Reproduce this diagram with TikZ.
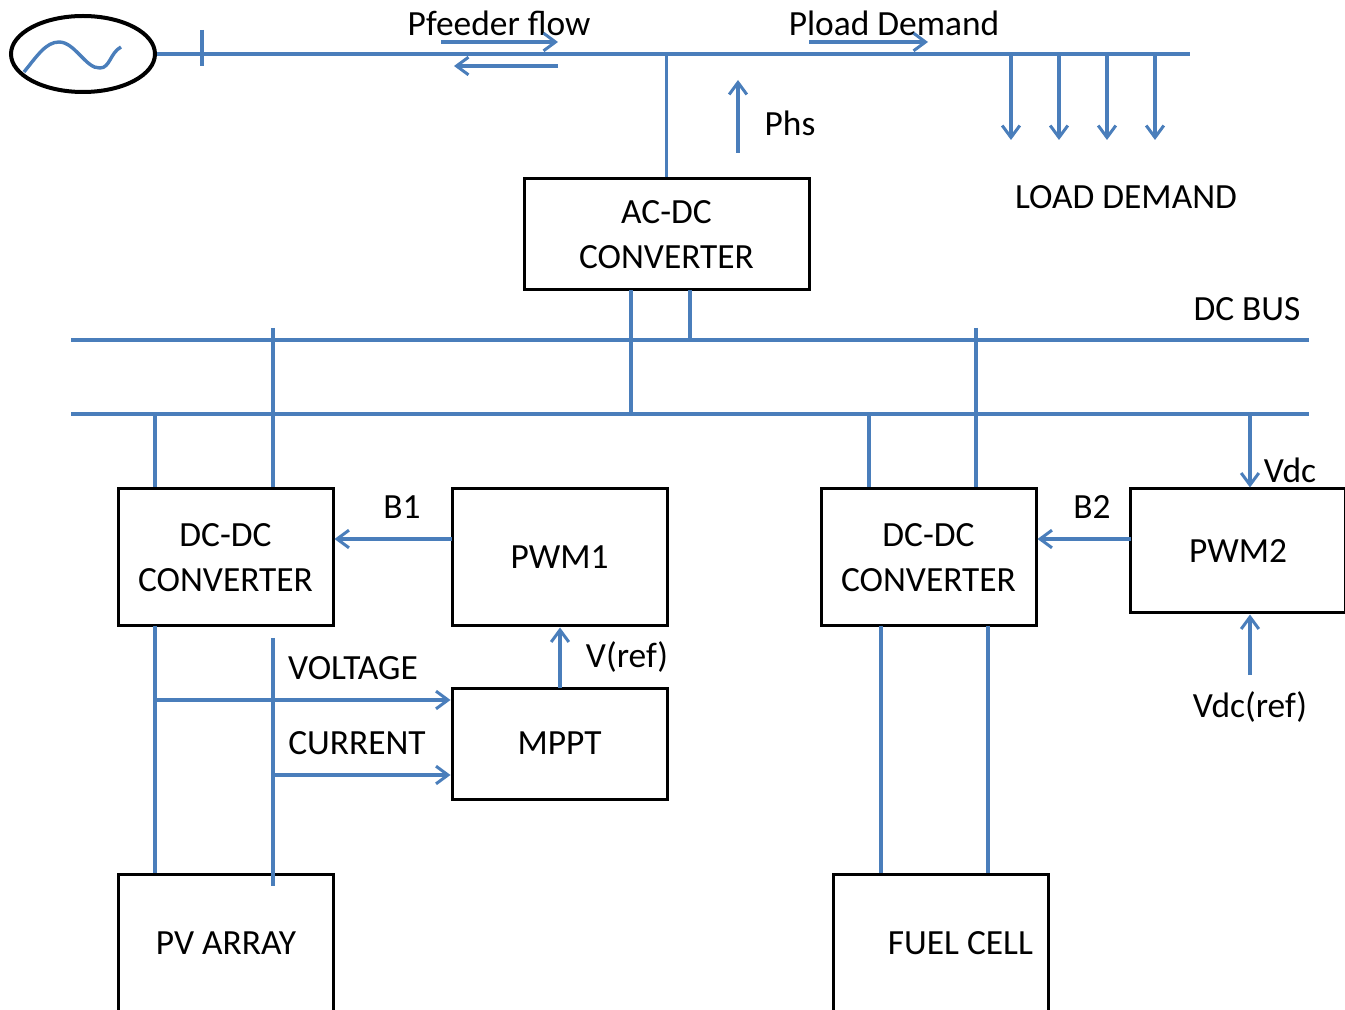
\documentclass[tikz,border=0pt]{standalone}
\usepackage{fontspec}
\setmainfont{Carlito}
\usepackage{xcolor}
\usetikzlibrary{arrows.meta,positioning,shapes.geometric}
\definecolor{wireblue}{HTML}{4A7EBB}

\begin{document}
\begin{tikzpicture}[
x=0.5pt, y=-0.5pt,
font=\fontsize{17.7}{22.5}\selectfont,
box/.style={draw=black, line width=1.5pt, minimum width=107.5pt, minimum height=68.5pt, align=center, inner sep=0pt},
label/.style={inner sep=0pt, align=center},
wire/.style={draw=wireblue, line width=1.7pt},
arrow/.style={wire, -{Straight Barb[length=2.1mm, width=3.1mm, line width=1.5pt]}}
]
\useasboundingbox (0,0) rectangle (1345,1010);
% source and feeder
\node[ellipse, draw=black, line width=2pt, minimum width=72pt, minimum height=38pt, inner sep=0pt] (source) at (83,54) {};
\coordinate (feederend) at (1190,54);
\coordinate (breaker) at (202,54);
\draw[wire] (source.east) -- (feederend);
\draw[wire] ([yshift=12pt]breaker) -- ([yshift=-6pt]breaker);
\draw[wire] (24,72) .. controls (37,56) and (46,42) .. (59,42) .. controls (75,42) and (86,69) .. (100,68) .. controls (110,68) and (110,53) .. (121,47);
\node[label] (pfeeder) at (499,23) {Pfeeder flow};
\node[label] (pload) at (894,23) {Pload Demand};
\coordinate (pfa) at (441,42);
\coordinate (pfb) at (558,42);
\coordinate (pfc) at (558,66);
\coordinate (pfd) at (454,66);
\coordinate (pla) at (809,42);
\coordinate (plb) at (928,42);
\draw[arrow] (pfa) -- (pfb);
\draw[arrow] (pfc) -- (pfd);
\draw[arrow] (pla) -- (plb);
% loads
\foreach \x/\n in {1011/a,1059/b,1107/c,1155/d} {
  \coordinate (tap\n) at (\x,54);
  \coordinate (load\n) at (\x,140);
  \draw[arrow] (tap\n) -- (load\n);
}
\node[label] (demand) at (1126,197) {LOAD DEMAND};
% ac-dc stage
\node[box, minimum width=142.5pt, minimum height=55.5pt] (acdc) at (666.5,234.5) {AC-DC\\CONVERTER};
\coordinate (phsa) at (738,153);
\coordinate (phsb) at (738,80);
\node[label] (phs) at (790,123) {Phs};
\draw[wire] (acdc.north) -- (acdc.north |- feederend);
\draw[arrow] (phsa) -- (phsb);
% dc bus
\coordinate (busa) at (71,340);
\coordinate (busb) at (1309,340);
\coordinate (busc) at (71,414);
\coordinate (busd) at (1309,414);
\draw[wire] (busa) -- (busb);
\draw[wire] (busc) -- (busd);
\node[label] (dcbus) at (1247,309) {DC BUS};
\coordinate (acx) at (631,290);
\coordinate (acy) at (690,290);
\draw[wire] (acx) -- (acx |- busc);
\draw[wire] (acy) -- (acy |- busa);
% converters and controllers
\node[box] (dcdcl) at (225.5,557.5) {DC-DC\\CONVERTER};
\node[box] (dcdcr) at (928.5,557.5) {DC-DC\\CONVERTER};
\node[box] (pwml) at (559.5,557.5) {PWM1};
\node[box, minimum height=62pt] (pwmr) at (1238,551) {PWM2};
\node[box, minimum height=55.5pt] (mppt) at (559.5,743.5) {MPPT};
\node[box] (pv) at (226,943) {PV ARRAY};
\node[box] (fuel) at (940.5,943) {\hspace{20pt}FUEL CELL};
% upper wires
\coordinate (ula) at (155,414);
\coordinate (ulb) at (273,328);
\coordinate (ura) at (869,414);
\coordinate (urb) at (976,328);
\draw[wire] (ula) -- (ula |- dcdcl.north);
\draw[wire] (ulb) -- (ulb |- dcdcl.north);
\draw[wire] (ura) -- (ura |- dcdcr.north);
\draw[wire] (urb) -- (urb |- dcdcr.north);
% control signals
\coordinate (sb1) at (452,539);
\coordinate (sb2) at (1131,539);
\coordinate (svref) at (560,688);
\coordinate (svdc) at (1250,414);
\coordinate (svdcref) at (1250,675);
\draw[arrow] (sb1) -- (sb1 -| dcdcl.east);
\draw[arrow] (sb2) -- (sb2 -| dcdcr.east);
\draw[arrow] (svref) -- (svref |- pwml.south);
\draw[arrow] (svdc) -- (svdc |- pwmr.north);
\draw[arrow] (svdcref) -- (svdcref |- pwmr.south);
\node[label] (lb1) at (402,507) {B1};
\node[label] (lb2) at (1092,507) {B2};
\node[label] (lvref) at (627,657) {V(ref)};
\node[label] (lvdc) at (1290,470) {Vdc};
\node[label] (lvdcref) at (1250,707) {Vdc(ref)};
% pv side
\coordinate (lla) at (155,626);
\coordinate (llb) at (273,638);
\coordinate (llc) at (273,886);
\coordinate (sv) at (155,700);
\coordinate (si) at (273,775);
\draw[wire] (lla) -- (lla |- pv.north);
\draw[wire] (llb) -- (llc);
\draw[arrow] (sv) -- (sv -| mppt.west);
\draw[arrow] (si) -- (si -| mppt.west);
\node[label] (lvolt) at (353,668) {VOLTAGE};
\node[label] (lcurr) at (357,743) {CURRENT};
% fuel cell side
\coordinate (fla) at (881,626);
\coordinate (flb) at (988,626);
\draw[wire] (fla) -- (fla |- fuel.north);
\draw[wire] (flb) -- (flb |- fuel.north);
\end{tikzpicture}
\end{document}
